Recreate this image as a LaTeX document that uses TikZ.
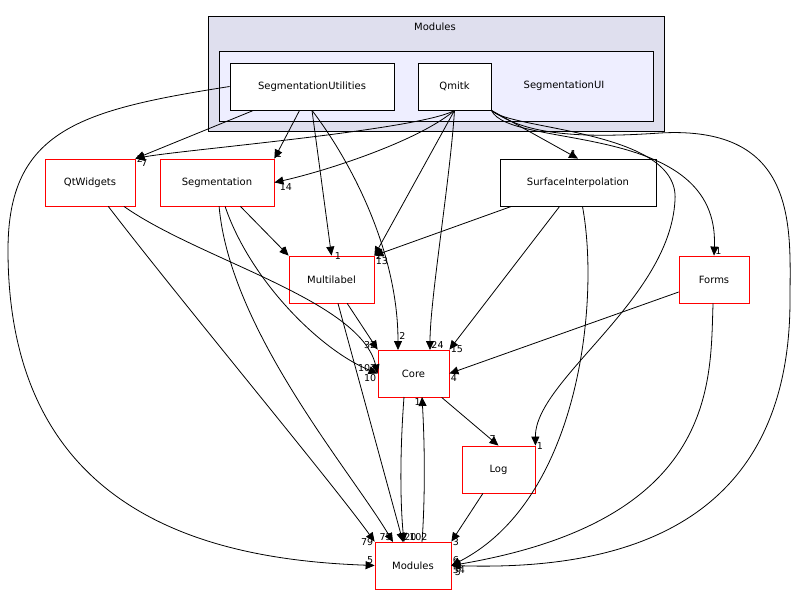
\documentclass[tikz,border=0pt]{standalone}
\usepackage{fontspec}
\setmainfont{DejaVu Sans}
\usetikzlibrary{arrows.meta,positioning}
\begin{document}
\begin{tikzpicture}[x=1pt,y=-1pt,font=\fontsize{10}{12}\selectfont,line width=0.8pt,
    dir/.style={draw=red,fill=white,minimum height=47pt,inner sep=0pt},
    sub/.style={draw=black,fill=white,minimum height=47pt,inner sep=0pt},
    dep/.style={-{Triangle[length=9pt,width=8pt]}},
    lab/.style={font=\fontsize{9.5}{10}\selectfont,inner sep=1pt}]
  \useasboundingbox (0,0) rectangle (800,596);
  % clusters
  \draw[fill={rgb,255:red,223;green,223;blue,238}] (208,16) rectangle (664,131);
  \node at (435,27) {Modules};
  \draw[fill={rgb,255:red,238;green,238;blue,255}] (219,51) rectangle (653,121);
  \node at (564,86) {SegmentationUI};
  % nodes
  \node[sub,minimum width=164pt] (segutil) at (312,86.5) {SegmentationUtilities};
  \node[sub,minimum width=73pt] (qmitk) at (454.5,86.5) {Qmitk};
  \node[dir,minimum width=90pt] (qtw) at (90,182.5) {QtWidgets};
  \node[dir,minimum width=114pt] (seg) at (217,182.5) {Segmentation};
  \node[sub,minimum width=156pt] (surf) at (578,182.5) {SurfaceInterpolation};
  \node[dir,minimum width=85pt] (ml) at (331.5,279.5) {Multilabel};
  \node[dir,minimum width=70pt] (forms) at (714,279.5) {Forms};
  \node[dir,minimum width=71pt] (core) at (413.5,373.5) {Core};
  \node[dir,minimum width=73pt] (log) at (498.5,469.5) {Log};
  \node[dir,minimum width=76pt] (mods) at (413,565.5) {Modules};
  % SegmentationUtilities
  \draw[dep] (segutil) -- (qtw.north east) node[lab,right] {2};
  \draw[dep] (segutil) -- (seg.north east) node[lab,above right] {1};
  \draw[dep] (segutil.south) -- (ml.north) node[lab,right=2pt] {1};
  \draw[dep] (segutil.south) .. controls (350,160) and (398,250) .. (398,350) node[lab,above right,pos=0.97] {2};
  \draw[dep] (segutil.west) .. controls (80,110) and (8,130) .. (8,250)
    .. controls (8,520) and (220,560) .. (mods.west) node[lab,above left] {5};
  % Qmitk
  \draw[dep] (qmitk.south) .. controls (420,130) and (180,150) .. (qtw.north east) node[lab,pos=0.97,below right] {7};
  \draw[dep] (qmitk.south) .. controls (420,140) and (330,170) .. (seg.east) node[lab,below right=0pt and 4pt] {14};
  \draw[dep] (qmitk.south) -- (ml.north east) node[lab,below right] {13};
  \draw[dep] (qmitk.south) .. controls (450,180) and (430,300) .. (430,350) node[lab,pos=0.97,right] {24};
  \draw[dep] (qmitk.south east) -- (surf.north) node[lab,above left] {1};
  \draw[dep] (qmitk.south east) .. controls (510,150) and (720,120) .. (forms.north) node[lab,above right] {1};
  \draw[dep] (qmitk.south east) .. controls (510,130) and (680,130) .. (675,200)
    .. controls (670,300) and (535,380) .. (log.north east) node[lab,right] {1};
  \draw[dep] (qmitk.south east) .. controls (520,130) and (560,140) .. (660,133)
    .. controls (800,125) and (790,230) .. (790,300)
    .. controls (790,540) and (600,570) .. (mods.east) node[lab,below right] {54};
  % lower level
  \draw[dep] (qtw) .. controls (200,260) and (360,300) .. (core.west) node[lab,above left] {107};
  \draw[dep] (qtw) .. controls (180,300) and (330,480) .. (mods.north west) node[lab,left] {79};
  \draw[dep] (seg) -- (ml.north west) node[lab,above left] {6};
  \draw[dep] (seg) .. controls (250,280) and (320,350) .. (core.west) node[lab,below left] {10};
  \draw[dep] (seg) .. controls (230,330) and (350,470) .. (393,542) node[lab,above left] {75};
  \draw[dep] (surf) -- (ml.north east) node[lab,right] {2};
  \draw[dep] (surf) -- (core.north east) node[lab,right] {15};
  \draw[dep] (surf) .. controls (600,300) and (580,500) .. (mods.east) node[lab,above right] {6};
  \draw[dep] (ml) -- (core.north west) node[lab,above left] {32};
  \draw[dep] (ml) -- (403,542) node[lab,above right] {20};
  \draw[dep] (forms) -- (core.east) node[lab,below right] {4};
  \draw[dep] (forms) .. controls (710,380) and (720,520) .. (mods.east) node[lab,below right=3pt] {5};
  \draw[dep] (core) -- (log.north) node[lab,above left=2pt] {7};
  \draw[dep] (404,397) .. controls (400,450) and (400,500) .. (404,542) node[lab,above right=0pt and 4pt] {102};
  \draw[dep] (422,542) .. controls (425,500) and (425,450) .. (422,397) node[lab,below left] {1};
  \draw[dep] (log) -- (mods.north east) node[lab,right] {3};
\end{tikzpicture}
\end{document}
